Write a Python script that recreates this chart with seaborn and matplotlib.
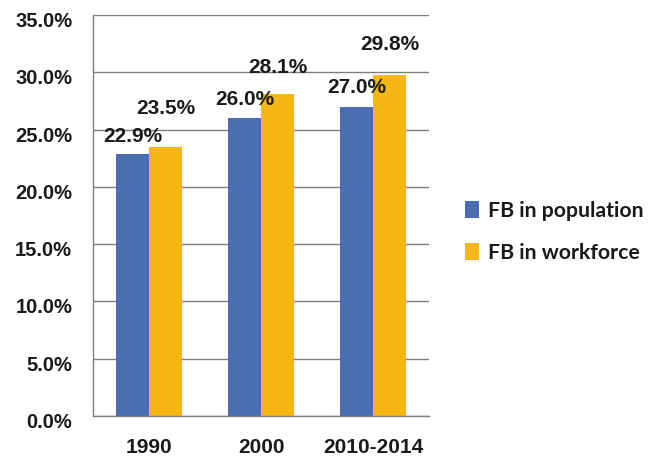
import numpy as np
import pandas as pd
import matplotlib
matplotlib.use("Agg")
import matplotlib.pyplot as plt
import matplotlib.transforms as mtransforms
import seaborn as sns
from matplotlib.ticker import FuncFormatter, FixedLocator

# data
periods = ["1990", "2000", "2010-2014"]
fb_population = [22.9, 26.0, 27.0]
fb_workforce = [23.5, 28.1, 29.8]
series_names = ["FB in population", "FB in workforce"]

df = pd.DataFrame({
    "period": periods * 2,
    "share": fb_population + fb_workforce,
    "series": [series_names[0]] * 3 + [series_names[1]] * 3,
})

sns.set_style("white")
plt.rcParams["font.family"] = ["Liberation Sans", "DejaVu Sans"]

fig = plt.figure(figsize=(6.6, 4.57), dpi=100)
ax = fig.add_axes([0.141, 0.09, 0.509, 0.877])

sns.barplot(data=df, x="period", y="share", hue="series",
            palette=["#4B6DB1", "#F6B615"], width=0.59, gap=0,
            saturation=1, edgecolor="none", ax=ax, legend=True)

ax.set_ylim(0, 35)
ax.set_xlim(-0.5, 2.5)
ax.set_yticks(np.arange(0, 36, 5))
ax.yaxis.set_major_formatter(FuncFormatter(lambda v, p: f"{v:.1f}%"))
ax.yaxis.grid(True, color="#7d7d7d", linewidth=1.0)
ax.set_axisbelow(True)
ax.set_xlabel("")
ax.set_ylabel("")

for s in ["top", "right"]:
    ax.spines[s].set_visible(False)
for s in ["left", "bottom"]:
    ax.spines[s].set_color("#7d7d7d")
    ax.spines[s].set_linewidth(1.0)

ax.tick_params(axis="y", length=5, color="#7d7d7d", labelsize=14.5, pad=10)
ax.tick_params(axis="x", which="major", length=0, labelsize=15, pad=16)
ax.xaxis.set_minor_locator(FixedLocator([-0.5, 0.5, 1.5, 2.5]))
ax.tick_params(axis="x", which="minor", length=5, color="#7d7d7d", direction="out")

# y labels sit a little below their gridlines in the reference
shift = mtransforms.ScaledTranslation(0, -0.045, fig.dpi_scale_trans)
for lab in ax.get_yticklabels():
    lab.set_transform(lab.get_transform() + shift)
for lab in ax.get_yticklabels() + ax.get_xticklabels():
    lab.set_fontweight("bold")
    lab.set_color("#1a1a1a")

# value labels (vertical offsets in points, as placed in the reference)
offsets = [[12.6, 13.7, 14.0], [27.4, 19.4, 22.0]]
for i, cont in enumerate(ax.containers):
    vals = [fb_population, fb_workforce][i]
    for j, bar in enumerate(cont):
        cx = bar.get_x() + bar.get_width() / 2
        ax.annotate(f"{vals[j]:.1f}%", (cx, vals[j]), xytext=(0, offsets[i][j]),
                    textcoords="offset points", ha="center", va="center",
                    fontsize=15, fontweight="bold", color="#1a1a1a")

leg = ax.legend(loc="center left", bbox_to_anchor=(465 / 660, 0.492),
                bbox_transform=fig.transFigure, frameon=False,
                borderpad=0, borderaxespad=0,
                handlelength=0.65, handleheight=0.85, handletextpad=0.45,
                labelspacing=1.05,
                prop={"family": ["Lato", "DejaVu Sans"], "weight": "bold", "size": 15.3})
for t in leg.get_texts():
    t.set_color("#1a1a1a")

fig.savefig("out.png", dpi=100)
